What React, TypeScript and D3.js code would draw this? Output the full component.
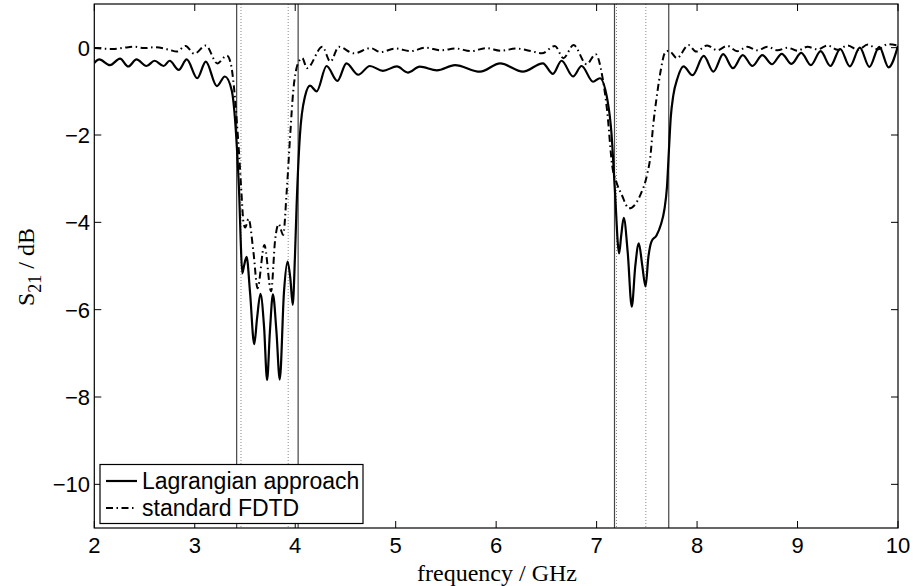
import React from "react";
import * as d3 from "d3";

const lagFreq = [2.0, 2.05, 2.156, 2.256, 2.338, 2.42, 2.52, 2.6, 2.69, 2.75, 2.84, 2.92, 3.025, 3.11, 3.22, 3.3, 3.367, 3.383, 3.417, 3.443, 3.457, 3.473, 3.49, 3.516, 3.55, 3.592, 3.62, 3.654, 3.69, 3.72, 3.748, 3.778, 3.813, 3.846, 3.888, 3.924, 3.952, 3.975, 3.997, 4.014, 4.047, 4.097, 4.147, 4.213, 4.312, 4.42, 4.51, 4.627, 4.743, 4.873, 5.012, 5.121, 5.24, 5.41, 5.59, 5.84, 6.04, 6.266, 6.465, 6.565, 6.651, 6.766, 6.85, 6.965, 7.032, 7.108, 7.148, 7.18, 7.224, 7.245, 7.27, 7.31, 7.35, 7.385, 7.42, 7.455, 7.487, 7.515, 7.546, 7.596, 7.64, 7.675, 7.7, 7.72, 7.738, 7.763, 7.805, 7.865, 7.955, 8.066, 8.163, 8.26, 8.357, 8.455, 8.551, 8.65, 8.745, 8.843, 8.94, 9.037, 9.133, 9.23, 9.327, 9.425, 9.52, 9.62, 9.715, 9.813, 9.907, 10.0];
const lagDb = [-0.35, -0.27, -0.4, -0.25, -0.43, -0.27, -0.42, -0.3, -0.42, -0.3, -0.51, -0.27, -0.7, -0.32, -0.88, -0.66, -0.97, -1.2, -2.2, -3.4, -4.4, -5.17, -5.0, -4.79, -5.6, -6.79, -6.2, -5.64, -6.4, -7.61, -6.5, -5.65, -6.5, -7.6, -5.6, -4.9, -5.3, -5.89, -4.8, -3.6, -2.0, -1.12, -0.87, -1.0, -0.42, -0.76, -0.36, -0.62, -0.42, -0.53, -0.43, -0.57, -0.435, -0.52, -0.4, -0.55, -0.36, -0.55, -0.36, -0.6, -0.3, -0.66, -0.42, -0.78, -0.7, -1.2, -1.96, -3.18, -4.71, -4.3, -3.9, -4.7, -5.93, -5.0, -4.48, -5.0, -5.47, -4.8, -4.44, -4.3, -4.05, -3.7, -3.2, -2.34, -1.6, -1.1, -0.7, -0.43, -0.63, -0.19, -0.55, -0.15, -0.47, -0.17, -0.42, -0.17, -0.38, -0.14, -0.37, -0.12, -0.4, -0.08, -0.42, -0.03, -0.43, 0.0, -0.44, 0.02, -0.45, 0.04];

const fdtdFreq = [2.0, 2.07, 2.2, 2.3, 2.4, 2.5, 2.6, 2.75, 2.82, 2.909, 2.995, 3.11, 3.225, 3.32, 3.36, 3.39, 3.42, 3.443, 3.463, 3.485, 3.502, 3.535, 3.585, 3.625, 3.693, 3.76, 3.8, 3.835, 3.88, 3.915, 3.95, 3.98, 4.01, 4.04, 4.07, 4.117, 4.27, 4.35, 4.434, 4.585, 4.75, 4.85, 5.0, 5.15, 5.3, 5.45, 5.6, 5.75, 5.9, 6.05, 6.2, 6.35, 6.455, 6.585, 6.67, 6.77, 6.9, 6.99, 7.06, 7.105, 7.155, 7.2, 7.25, 7.323, 7.43, 7.505, 7.535, 7.56, 7.6, 7.64, 7.68, 7.72, 7.8, 7.915, 7.99, 8.1, 8.2, 8.3, 8.4, 8.5, 8.6, 8.7, 8.8, 8.9, 9.0, 9.1, 9.2, 9.3, 9.4, 9.5, 9.6, 9.7, 9.8, 9.9, 10.0];
const fdtdDb = [-0.01, -0.02, -0.03, 0.0, 0.02, -0.01, 0.01, -0.05, -0.09, 0.04, -0.14, 0.05, -0.36, -0.18, -0.38, -0.9, -1.73, -2.5, -3.26, -4.0, -4.12, -3.92, -4.7, -5.51, -4.52, -5.58, -4.4, -4.04, -4.29, -3.3, -2.0, -1.0, -0.5, -0.3, -0.24, -0.47, 0.02, -0.32, 0.02, -0.13, -0.01, -0.1, -0.02, -0.08, 0.0, -0.06, -0.02, -0.08, -0.01, -0.07, -0.02, -0.08, -0.13, 0.04, -0.24, 0.06, -0.38, -0.15, -0.7, -1.45, -2.7, -3.1, -3.37, -3.68, -3.4, -2.88, -2.5, -1.85, -1.1, -0.5, -0.12, -0.07, -0.24, 0.06, -0.09, 0.05, -0.06, 0.04, -0.08, 0.02, -0.06, 0.02, -0.06, 0.0, -0.07, 0.02, -0.04, 0.05, -0.05, 0.05, -0.05, 0.07, -0.04, 0.08, 0.05];

const solidMarkers = [3.417, 4.029, 7.178, 7.718];
const dottedMarkers = [3.46, 3.93, 7.198, 7.49];

const xTicks = [2, 3, 4, 5, 6, 7, 8, 9, 10];
const yTicks = [-10, -8, -6, -4, -2, 0];
const seriesNames = ["Lagrangian approach", "standard FDTD"];

const W = 915;
const H = 586;
const L = 94.3;
const R = 898;
const T = 4;
const B = 528;

export default function App() {
  const x = d3.scaleLinear().domain([2, 10]).range([L, R]);
  const y = d3.scaleLinear().domain([-11, 1]).range([B, T]);
  const line = d3
    .line<[number, number]>()
    .x((d) => x(d[0]))
    .y((d) => y(d[1]))
    .curve(d3.curveMonotoneX);
  const lagPts = lagFreq.map((f, i) => [f, lagDb[i]] as [number, number]);
  const fdtdPts = fdtdFreq.map((f, i) => [f, fdtdDb[i]] as [number, number]);
  const tickLen = 7;
  const sans = "'Liberation Sans', Arial, Helvetica, sans-serif";
  const serif = "'Liberation Serif', 'Times New Roman', serif";
  const fmt = (v: number) => (v < 0 ? "\u2212" + Math.abs(v) : String(v));

  return (
    <svg width={W} height={H} style={{ position: "absolute", left: 0, top: 0, background: "#fff" }}>
      <rect x={0} y={0} width={W} height={H} fill="#fff" />
      <defs>
        <clipPath id="plotclip">
          <rect x={L} y={T} width={R - L} height={B - T} />
        </clipPath>
      </defs>
      {solidMarkers.map((f, i) => (
        <line key={"s" + i} x1={x(f)} x2={x(f)} y1={T} y2={B} stroke="#444" strokeWidth={1.2} />
      ))}
      {dottedMarkers.map((f, i) => (
        <line key={"d" + i} x1={x(f)} x2={x(f)} y1={T} y2={B} stroke="#888" strokeWidth={1} strokeDasharray="1,2" />
      ))}
      <g clipPath="url(#plotclip)">
        <path d={line(fdtdPts) || ""} fill="none" stroke="#000" strokeWidth={2} strokeDasharray="7,3.5,1.5,3.5" />
        <path d={line(lagPts) || ""} fill="none" stroke="#000" strokeWidth={2.2} />
      </g>
      <rect x={L} y={T} width={R - L} height={B - T} fill="none" stroke="#000" strokeWidth={1.2} />
      {xTicks.map((t) => (
        <g key={"xt" + t}>
          <line x1={x(t)} x2={x(t)} y1={B} y2={B - tickLen} stroke="#000" />
          <line x1={x(t)} x2={x(t)} y1={T} y2={T + tickLen} stroke="#000" />
          <text x={x(t)} y={553} textAnchor="middle" fontFamily={sans} fontSize={22}>
            {fmt(t)}
          </text>
        </g>
      ))}
      {yTicks.map((t) => (
        <g key={"yt" + t}>
          <line x1={L} x2={L + tickLen} y1={y(t)} y2={y(t)} stroke="#000" />
          <line x1={R} x2={R - tickLen} y1={y(t)} y2={y(t)} stroke="#000" />
          <text x={90} y={y(t) + 8} textAnchor="end" fontFamily={sans} fontSize={22}>
            {fmt(t)}
          </text>
        </g>
      ))}
      <text x={497} y={581} textAnchor="middle" fontFamily={serif} fontSize={24}>
        frequency / GHz
      </text>
      <text transform={`translate(34, 267) rotate(-90)`} textAnchor="middle" fontFamily={serif} fontSize={24}>
        S<tspan dy={7} fontSize={18}>21</tspan>
        <tspan dy={-7}> / dB</tspan>
      </text>
      <g>
        <rect x={100} y={464.5} width={263} height={59} fill="#fff" stroke="#000" strokeWidth={1.2} />
        <line x1={106} x2={137} y1={481} y2={481} stroke="#000" strokeWidth={2.2} />
        <line x1={106} x2={137} y1={508} y2={508} stroke="#000" strokeWidth={2} strokeDasharray="7,3.5,1.5,3.5" />
        <text x={142} y={489} fontFamily={sans} fontSize={23}>
          {seriesNames[0]}
        </text>
        <text x={142} y={516} fontFamily={sans} fontSize={23}>
          {seriesNames[1]}
        </text>
      </g>
    </svg>
  );
}
